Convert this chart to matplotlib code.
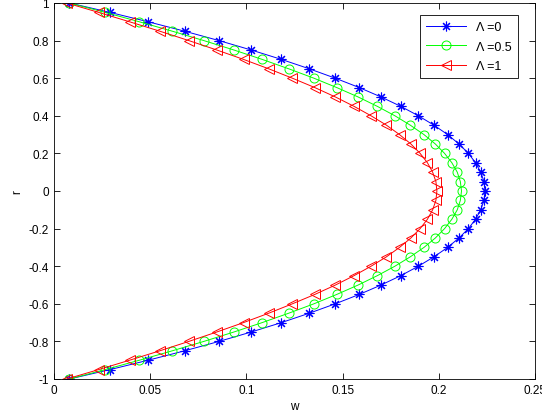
import matplotlib
matplotlib.use("Agg")
import matplotlib.pyplot as plt

plt.rcParams['font.family'] = ['Liberation Sans', 'DejaVu Sans']

# radial position
r = [-1.00, -0.95, -0.90, -0.85, -0.80, -0.75, -0.70, -0.65, -0.60, -0.55,
     -0.50, -0.45, -0.40, -0.35, -0.30, -0.25, -0.20, -0.15, -0.10, -0.05,
     0.00,
     0.05, 0.10, 0.15, 0.20, 0.25, 0.30, 0.35, 0.40, 0.45, 0.50,
     0.55, 0.60, 0.65, 0.70, 0.75, 0.80, 0.85, 0.90, 0.95, 1.00]

# velocity w for Lambda = 0
w0 = [0.0080, 0.0291, 0.0490, 0.0679, 0.0858, 0.1025, 0.1182, 0.1327, 0.1462, 0.1587,
      0.1700, 0.1803, 0.1894, 0.1975, 0.2046, 0.2105, 0.2154, 0.2191, 0.2218, 0.2235,
      0.2240,
      0.2235, 0.2218, 0.2191, 0.2154, 0.2105, 0.2046, 0.1975, 0.1894, 0.1803, 0.1700,
      0.1587, 0.1462, 0.1327, 0.1182, 0.1025, 0.0858, 0.0679, 0.0490, 0.0291, 0.0080]

# Lambda = 0.5
w05 = [0.0080, 0.0266, 0.0444, 0.0615, 0.0779, 0.0935, 0.1082, 0.1220, 0.1351, 0.1470,
       0.1581, 0.1681, 0.1772, 0.1852, 0.1923, 0.1982, 0.2030, 0.2068, 0.2096, 0.2112,
       0.2118,
       0.2112, 0.2096, 0.2068, 0.2030, 0.1982, 0.1923, 0.1852, 0.1772, 0.1681, 0.1581,
       0.1470, 0.1351, 0.1220, 0.1082, 0.0935, 0.0779, 0.0615, 0.0444, 0.0266, 0.0080]

# Lambda = 1
w1 = [0.0066, 0.0232, 0.0393, 0.0550, 0.0701, 0.0846, 0.0985, 0.1116, 0.1239, 0.1356,
      0.1463, 0.1560, 0.1648, 0.1728, 0.1796, 0.1855, 0.1903, 0.1941, 0.1968, 0.1985,
      0.1990,
      0.1985, 0.1968, 0.1941, 0.1903, 0.1855, 0.1796, 0.1728, 0.1648, 0.1560, 0.1463,
      0.1356, 0.1239, 0.1116, 0.0985, 0.0846, 0.0701, 0.0550, 0.0393, 0.0232, 0.0066]

fig = plt.figure(figsize=(5.42, 4.14), dpi=100)
ax = fig.add_axes([54/542, 34/414, 481/542, 376/414])

# asterisk marker like matlab '*'
ax.plot(w0, r, color=(0, 0, 1), lw=0.7, marker=(8, 2, 0), ms=7, mew=0.8, label='Λ =0')
ax.plot(w05, r, color=(0, 1, 0), lw=0.7, marker='o', ms=6.5, mfc='none', mew=0.7, label='Λ =0.5')
ax.plot(w1, r, color=(1, 0, 0), lw=0.7, marker='<', ms=7.5, mfc='none', mew=0.7, label='Λ =1')

ax.set_xlim(0, 0.25)
ax.set_ylim(-1, 1)
ax.set_xticks([0, 0.05, 0.1, 0.15, 0.2, 0.25])
ax.set_xticklabels(['0', '0.05', '0.1', '0.15', '0.2', '0.25'])
ax.set_yticks([-1, -0.8, -0.6, -0.4, -0.2, 0, 0.2, 0.4, 0.6, 0.8, 1])
ax.set_yticklabels(['-1', '-0.8', '-0.6', '-0.4', '-0.2', '0', '0.2', '0.4', '0.6', '0.8', '1'])
ax.tick_params(direction='in', top=True, right=True, length=4, width=0.6, labelsize=8.5)
for s in ax.spines.values():
    s.set_linewidth(0.6)

ax.set_xlabel('w', fontsize=8.5, labelpad=3)
ax.set_ylabel('r', fontsize=8.5, labelpad=4)

leg = ax.legend(loc='upper right', fontsize=9, fancybox=False, framealpha=1,
                edgecolor='black', handlelength=3.2, borderpad=0.5, labelspacing=0.6,
                bbox_to_anchor=(0.977, 0.985))
leg.get_frame().set_linewidth(0.6)

fig.savefig('out.png', dpi=100)
